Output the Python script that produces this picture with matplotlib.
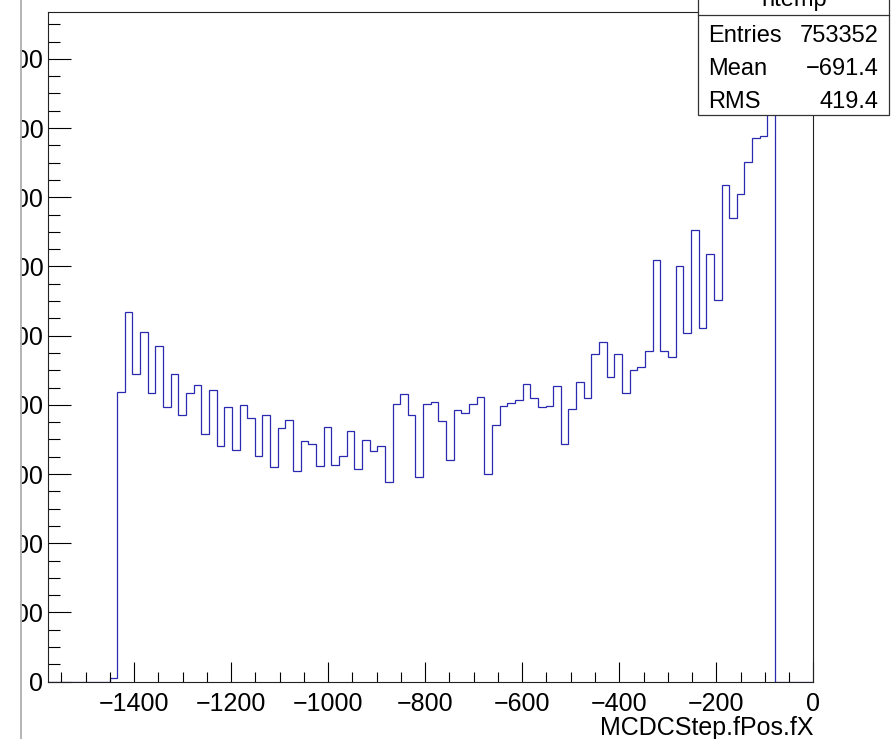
import matplotlib
matplotlib.use("Agg")
import matplotlib.pyplot as plt
from matplotlib.ticker import MultipleLocator, FuncFormatter
from matplotlib.patches import Rectangle
from matplotlib.lines import Line2D

# ---------------- data ----------------
x_min = -1577.0
x_max = 0.0
n_bins = 100
# bin contents (bins 0..99); bin 94 peaks behind the stats box
counts = [0] * 8 + [
    100, 8373, 10694, 8902, 10098, 8353, 9711, 7939, 8902, 7699,       # 8-17
    8353, 8584, 7168, 8422, 6821, 7948, 6705, 8006, 7621, 6532,        # 18-27
    7717, 6196, 7341, 7555, 6089, 6965, 6878, 6225, 7370, 6254,        # 28-37
    6514, 7254, 6138, 6985, 6659, 6803, 5780, 8026, 8306, 7699,        # 38-47
    5907, 8026, 8092, 7543, 6398, 7843, 7757, 8026, 8219, 6003,        # 48-57
    7410, 7959, 8046, 8132, 8612, 8190, 7939, 7959, 8554, 6861,        # 58-67
    7872, 8670, 8190, 9471, 9809, 8797, 9479, 8352, 9017, 9104,        # 68-77
    9566, 12178, 9566, 9384, 12022, 10077, 13045, 10222, 12352, 11022, # 78-87
    14355, 13392, 14086, 15028, 15720, 15780, 18440,                   # 88-94
] + [0] * 5

stat_title = "htemp"
stat_names = ["Entries", "Mean", "RMS"]
stat_values = ["753352", "\u2212691.4", "419.4"]
x_title = "MCDCStep.fPos.fX"

# ---------------- figure ----------------
W, H = 891, 739
fig = plt.figure(figsize=(W / 100, H / 100), dpi=100)
plt.rcParams['font.family'] = ['Liberation Sans', 'DejaVu Sans']

def fx(px):
    return px / W

def fy(py):
    return 1 - py / H

left, right, top, bottom = 48.3, 813.3, 11.7, 681.7
ax = fig.add_axes([fx(left), fy(bottom), fx(right) - fx(left), fy(top) - fy(bottom)])

edges = [x_min + i * (x_max - x_min) / n_bins for i in range(n_bins + 1)]
ax.stairs(counts, edges, color="#2a2ab0", linewidth=0.9, baseline=0)

ax.set_xlim(x_min, x_max)
ax.set_ylim(0, max(counts) * 1.05)

ax.xaxis.set_major_locator(MultipleLocator(200))
ax.xaxis.set_minor_locator(MultipleLocator(50))
ax.yaxis.set_major_locator(MultipleLocator(2000))
ax.yaxis.set_minor_locator(MultipleLocator(500))
ax.yaxis.set_major_formatter(FuncFormatter(lambda v, p: f"{int(round(v))}"))
ax.xaxis.set_major_formatter(FuncFormatter(lambda v, p: f"{int(round(v))}".replace("-", "\u2212")))

fs_axis = 18
fs_stat = 17
ax.tick_params(axis='x', which='major', direction='in', length=14.4, width=0.8,
               labelsize=fs_axis, pad=7.5, top=False)
ax.tick_params(axis='x', which='minor', direction='in', length=7.2, width=0.8, top=False)
ax.tick_params(axis='y', which='major', direction='in', length=16.3, width=0.8,
               labelsize=fs_axis, pad=3.5, right=False)
ax.tick_params(axis='y', which='minor', direction='in', length=8.4, width=0.8, right=False)
for s in ax.spines.values():
    s.set_linewidth(0.8)
    s.set_color("#222222")

fig.text(fx(813), fy(735), x_title, ha='right', va='baseline', fontsize=fs_axis)

# ---------------- stats box ----------------
bx0, bx1, by0, by1 = 698.3, 889.3, -25, 115
fig.patches.append(Rectangle((fx(bx0), fy(by1)), fx(bx1) - fx(bx0), fy(by0) - fy(by1),
                             transform=fig.transFigure, facecolor='white',
                             edgecolor='#333333', linewidth=0.9, zorder=5))
fig.lines.append(Line2D([fx(bx0), fx(bx1)], [fy(15), fy(15)], transform=fig.transFigure,
                        color='#333333', linewidth=0.9, zorder=6))
fig.text(fx((bx0 + bx1) / 2), fy(6), stat_title, ha='center', va='baseline',
         fontsize=fs_stat, zorder=7)
for i, (n, v) in enumerate(zip(stat_names, stat_values)):
    yb = [41.5, 75, 108][i]
    fig.text(fx(708), fy(yb), n, ha='left', va='baseline', fontsize=fs_stat, zorder=7)
    fig.text(fx(879), fy(yb), v, ha='right', va='baseline', fontsize=fs_stat, zorder=7)

# ---------------- left window edge ----------------
fig.patches.append(Rectangle((0, 0), fx(20), 1, transform=fig.transFigure,
                             facecolor='white', edgecolor='none', zorder=10))
fig.lines.append(Line2D([fx(20.7), fx(20.7)], [0, 1], transform=fig.transFigure,
                        color='#b4b4b4', linewidth=1.4, zorder=11))

fig.savefig("out.png", dpi=100)
